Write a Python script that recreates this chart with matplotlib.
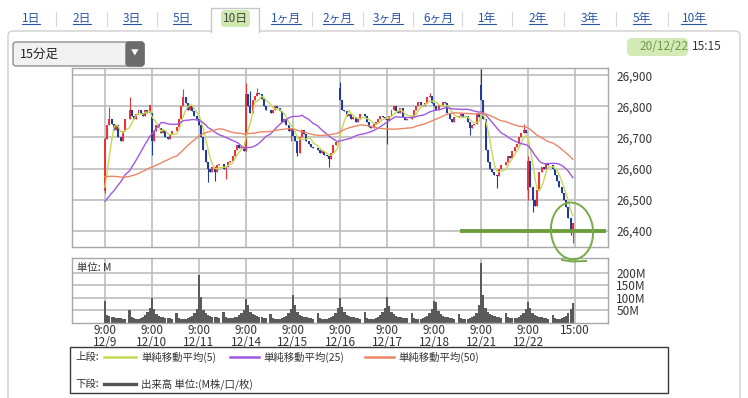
import numpy as np
import matplotlib
matplotlib.use("Agg")
import matplotlib.pyplot as plt
from matplotlib.patches import FancyBboxPatch, Rectangle, Ellipse
from matplotlib.transforms import blended_transform_factory

plt.rcParams['font.family'] = ['Noto Sans CJK JP', 'DejaVu Sans']

# ---------------- data ----------------
tabs = ["1日", "2日", "3日", "5日", "10日", "1ヶ月", "2ヶ月", "3ヶ月", "6ヶ月",
        "1年", "2年", "3年", "5年", "10年"]
selected_tab = "10日"
interval_label = "15分足"
stamp_date = "20/12/22"
stamp_time = "15:15"

day_labels = ["12/9", "12/10", "12/11", "12/14", "12/15", "12/16", "12/17",
              "12/18", "12/21", "12/22"]
x_tick_times = ["9:00"] * 10 + ["15:00"]
price_ticks = [26400, 26500, 26600, 26700, 26800, 26900]
volume_ticks = [50, 100, 150, 200]

# closes of earlier sessions (only used to start the moving averages)
prev_closes_1204 = [26720, 26730, 26745, 26740, 26750, 26745, 26735, 26740, 26750]
prev_closes_1207 = [26680, 26670, 26660, 26650, 26640, 26620, 26610, 26600, 26600, 26590,
                    26580, 26570, 26560, 26560, 26550, 26540, 26540, 26530, 26520, 26547]
prev_closes_1208 = [26480, 26470, 26460, 26450, 26455, 26465, 26470, 26480, 26475, 26470,
                    26465, 26460, 26470, 26480, 26490, 26485, 26500, 26495, 26505, 26505]

# 15-minute closes, 20 bars per session
close_1209 = [26695, 26740, 26760, 26745, 26725, 26740, 26700, 26690, 26720, 26760,
              26790, 26770, 26760, 26775, 26790, 26780, 26770, 26790, 26780, 26805]
close_1210 = [26690, 26720, 26740, 26730, 26715, 26725, 26700, 26695, 26710, 26720,
              26735, 26760, 26800, 26830, 26810, 26790, 26800, 26785, 26770, 26760]
close_1211 = [26740, 26700, 26660, 26620, 26600, 26590, 26605, 26590, 26610, 26615,
              26600, 26605, 26620, 26625, 26640, 26660, 26675, 26665, 26670, 26655]
close_1214 = [26840, 26800, 26780, 26820, 26835, 26845, 26840, 26825, 26800, 26790,
              26780, 26790, 26800, 26795, 26785, 26750, 26760, 26740, 26720, 26730]
close_1215 = [26705, 26690, 26650, 26700, 26725, 26710, 26690, 26680, 26670, 26665,
              26660, 26650, 26655, 26645, 26640, 26630, 26650, 26675, 26685, 26690]
close_1216 = [26820, 26790, 26785, 26770, 26775, 26760, 26765, 26750, 26760, 26775,
              26770, 26750, 26735, 26730, 26745, 26750, 26760, 26770, 26765, 26760]
close_1217 = [26755, 26770, 26790, 26800, 26785, 26780, 26795, 26765, 26755, 26760,
              26770, 26790, 26800, 26815, 26805, 26800, 26810, 26830, 26835, 26810]
close_1218 = [26800, 26790, 26805, 26800, 26815, 26810, 26780, 26760, 26750, 26765,
              26770, 26775, 26765, 26770, 26750, 26730, 26740, 26745, 26775, 26765]
close_1221 = [26820, 26760, 26660, 26620, 26600, 26590, 26580, 26575, 26600, 26610,
              26620, 26640, 26635, 26655, 26670, 26680, 26700, 26715, 26725, 26715]
close_1222 = [26625, 26540, 26500, 26480, 26530, 26590, 26605, 26600, 26615, 26610,
              26600, 26580, 26560, 26540, 26520, 26500, 26475, 26440, 26400, 26425]
session_closes = [close_1209, close_1210, close_1211, close_1214, close_1215,
                  close_1216, close_1217, close_1218, close_1221, close_1222]
session_opens = [26527, 26780, 26760, 26655, 26730, 26860, 26760, 26810, 26870, 26530]

# (session, bar, high, low) for the longer wicks
wick_extremes = [(0, 0, 26700, 26520), (0, 2, 26797, None), (0, 10, 26830, None),
                 (1, 0, None, 26645), (1, 13, 26855, None), (2, 4, None, 26555),
                 (2, 7, None, 26560), (2, 11, None, 26565), (3, 0, 26875, None),
                 (3, 2, 26850, None), (3, 5, 26860, None), (3, 19, None, 26690),
                 (4, 2, None, 26640), (4, 15, None, 26605), (5, 0, 26878, None),
                 (6, 0, None, 26680), (6, 18, 26842, None), (7, 15, None, 26708),
                 (8, 0, 26922, None), (8, 7, None, 26538), (8, 18, 26745, None),
                 (9, 0, 26640, 26500), (9, 2, None, 26460), (9, 18, None, 26385),
                 (9, 19, None, 26360)]

# volume (millions), 20 bars per session
vol_1209 = [89, 30, 26, 24, 22, 20, 19, 18, 17, 16, 50, 22, 18, 16, 16, 18, 22, 30, 42, 60]
vol_1210 = [100, 55, 35, 28, 24, 22, 20, 19, 18, 17, 38, 18, 16, 15, 16, 18, 22, 28, 40, 55]
vol_1211 = [190, 105, 50, 38, 30, 28, 25, 24, 22, 20, 42, 22, 20, 19, 20, 22, 25, 30, 38, 52]
vol_1214 = [95, 70, 45, 35, 30, 26, 24, 22, 20, 18, 36, 20, 17, 16, 17, 18, 22, 28, 40, 55]
vol_1215 = [112, 70, 45, 33, 28, 25, 22, 20, 18, 17, 38, 18, 16, 16, 17, 18, 22, 28, 40, 58]
vol_1216 = [98, 65, 42, 32, 27, 24, 22, 20, 18, 17, 42, 20, 17, 16, 17, 19, 23, 30, 45, 60]
vol_1217 = [105, 68, 45, 34, 28, 25, 23, 21, 19, 18, 38, 19, 17, 16, 17, 18, 22, 28, 38, 55]
vol_1218 = [88, 85, 48, 35, 28, 25, 22, 20, 18, 17, 36, 18, 16, 15, 16, 18, 22, 28, 40, 72]
vol_1221 = [240, 112, 60, 42, 35, 30, 27, 25, 22, 20, 40, 22, 19, 18, 19, 21, 25, 30, 40, 55]
vol_1222 = [82, 60, 40, 32, 27, 24, 22, 20, 18, 17, 33, 18, 17, 17, 18, 22, 28, 38, 55, 78]
session_volumes = [vol_1209, vol_1210, vol_1211, vol_1214, vol_1215,
                   vol_1216, vol_1217, vol_1218, vol_1221, vol_1222]

ma_periods = [5, 25, 50]
ma_names = ["単純移動平均(5)", "単純移動平均(25)", "単純移動平均(50)"]
volume_name = "出来高 単位:(M株/口/枚)"

# ---------------- build series ----------------
UP = "#e5343a"
DOWN = "#1f3c9c"
MA_COLORS = ["#c5d955", "#a257e0", "#ea8666"]
GRID = "#bdbdbd"
SPINE = "#a8a8a8"
TXT = "#333333"

xs, o_, h_, l_, c_, v_ = [], [], [], [], [], []
for d, (cl, vol) in enumerate(zip(session_closes, session_volumes)):
    for i, c in enumerate(cl):
        slot = i if i < 10 else i + 1          # lunch break slot left empty
        xs.append(d + slot / 21.0)
        o = session_opens[d] if i == 0 else cl[i - 1]
        o_.append(o)
        c_.append(c)
        h_.append(max(o, c))
        l_.append(min(o, c))
        v_.append(vol[i])
xs = np.array(xs)
o_ = np.array(o_, float); c_ = np.array(c_, float)
h_ = np.array(h_, float); l_ = np.array(l_, float); v_ = np.array(v_, float)
for d, b, hi, lo in wick_extremes:
    k = d * 20 + b
    if hi is not None:
        h_[k] = max(h_[k], hi)
    if lo is not None:
        l_[k] = min(l_[k], lo)

all_closes = np.array(prev_closes_1204 + prev_closes_1207 + prev_closes_1208 + list(c_), float)
n = len(c_)
mas = []
for p in ma_periods:
    m = np.convolve(all_closes, np.ones(p) / p, mode="valid")
    mas.append(m[-n:])

# ---------------- figure ----------------
W, H = 748, 398
fig = plt.figure(figsize=(W / 100, H / 100), dpi=100)
fig.patch.set_facecolor("white")

def fax(x0, y0, x1, y1):
    return [x0 / W, 1 - y1 / H, (x1 - x0) / W, (y1 - y0) / H]

# UI layer in pixel coordinates
ui = fig.add_axes([0, 0, 1, 1], zorder=0)
ui.set_xlim(0, W); ui.set_ylim(H, 0); ui.axis("off")

# panel border
ui.add_patch(FancyBboxPatch((8, 31), 732, 400, boxstyle="round,pad=0,rounding_size=5",
                            fc="white", ec="#cfcfcf", lw=1.0))
# selected tab box
ui.add_patch(Rectangle((211, 8), 48, 24, fc="white", ec="none", zorder=2))
ui.plot([211, 211, 259, 259], [31.5, 8, 8, 31.5], color="#c8c8c8", lw=1.0, zorder=3)

tab_centers = [31, 82, 132, 182, 235, 286, 338, 388, 438, 487, 538, 590, 642, 694]
tab_texts = []
for k, (t, cx) in enumerate(zip(tabs, tab_centers)):
    if t == selected_tab:
        ui.add_patch(FancyBboxPatch((221, 10), 29, 17, boxstyle="round,pad=0,rounding_size=4",
                                    fc="#cfe8ad", ec="none", zorder=3))
        ui.text(cx, 18.5, t, ha="center", va="center", fontsize=8.5, color="#444444", zorder=4)
    else:
        tt = ui.text(cx, 18.5, t, ha="center", va="center", fontsize=8.5, color="#2a55a8", zorder=4)
        tab_texts.append(tt)
    if 0 < k and tabs[k - 1] != selected_tab and t != selected_tab:
        sx = (tab_centers[k - 1] + cx) / 2
        ui.plot([sx, sx], [12, 26], color="#d6d6d6", lw=0.8, zorder=3)

# dropdown
ui.add_patch(FancyBboxPatch((13, 42), 131, 24, boxstyle="round,pad=0,rounding_size=3",
                            fc="#f1f1f1", ec="#8f8f8f", lw=1.0, zorder=2))
ui.add_patch(FancyBboxPatch((126, 42), 18, 24, boxstyle="round,pad=0,rounding_size=3",
                            fc="#6b6b6b", ec="#6b6b6b", lw=1.0, zorder=3))
ui.text(135, 54, "▼", ha="center", va="center", fontsize=5.5, color="white", zorder=4)
ui.text(20, 54.5, interval_label, ha="left", va="center", fontsize=9, color="#222222", zorder=4)

# timestamp
ui.add_patch(FancyBboxPatch((627, 38), 61, 18, boxstyle="round,pad=0,rounding_size=5",
                            fc="#d3eab6", ec="none", zorder=2))
ui.text(688, 47, stamp_date, ha="right", va="center", fontsize=8.5, color="#6f9a45", zorder=4)
ui.text(692, 47, stamp_time, ha="left", va="center", fontsize=8.5, color="#333333", zorder=4)

# legend box
ui.add_patch(Rectangle((70, 347), 598, 46, fc="white", ec="#3a3a3a", lw=1.0, zorder=2))
ly1, ly2 = 357, 384
ui.text(75, ly1, "上段:", ha="left", va="center", fontsize=7.5, color=TXT, zorder=4)
leg_x = [(104, 136, 141), (230, 259, 263), (365, 394, 398)]
for (a, b, tx), col, name in zip(leg_x, MA_COLORS, ma_names):
    ui.plot([a, b], [ly1, ly1], color=col, lw=1.8, zorder=4)
    ui.text(tx, ly1, name, ha="left", va="center", fontsize=7.5, color=TXT, zorder=4)
ui.text(75, ly2, "下段:", ha="left", va="center", fontsize=7.5, color=TXT, zorder=4)
ui.plot([104, 136], [ly2, ly2], color="#555555", lw=2.4, zorder=4)
ui.text(141, ly2, volume_name, ha="left", va="center", fontsize=7.5, color=TXT, zorder=4)

# ---------------- price panel ----------------
X0, X1 = -0.70, 10.70
axp = fig.add_axes(fax(72, 68, 608, 247), zorder=3)
axp.set_facecolor("white")
axp.set_xlim(X0, X1)
axp.set_ylim(26347, 26924)
for d in range(11):
    axp.axvline(d, color=GRID, lw=1.2, zorder=0)
for p in price_ticks:
    axp.axhline(p, color=GRID, lw=1.2, zorder=0)
up = c_ >= o_
cols = np.where(up, UP, DOWN)
axp.vlines(xs, l_, h_, colors=cols, lw=0.8, zorder=2)
body_b = np.minimum(o_, c_)
body_h = np.maximum(np.abs(c_ - o_), 2.0)
axp.bar(xs, body_h, bottom=body_b, width=0.042, color=cols, lw=0, zorder=2)
for m, col in zip(mas, MA_COLORS):
    axp.plot(xs, m, color=col, lw=1.0, zorder=3)
axp.set_yticks(price_ticks)
axp.set_yticklabels([f"{p:,}" for p in price_ticks])
axp.yaxis.tick_right()
axp.set_xticks([])
axp.tick_params(axis="y", length=0, pad=6, labelsize=8.5, labelcolor=TXT)
for s in axp.spines.values():
    s.set_color(SPINE); s.set_linewidth(1.0)

# green hand annotations
GREEN = "#6c9f3b"
axp.plot([(460 - 105) / 47, (606 - 105) / 47], [26398, 26398], color=GREEN, lw=2.8,
         solid_capstyle="butt", clip_on=False, zorder=5)
ui2 = fig.add_axes([0, 0, 1, 1], zorder=10)
ui2.set_xlim(0, W); ui2.set_ylim(H, 0); ui2.axis("off")
ui2.patch.set_alpha(0)
ui2.add_patch(Ellipse((572, 231), 42, 57, angle=-5, fc="none", ec="#78aa48", lw=1.4))
ui2.plot([562, 572, 586], [260, 261.5, 261], color="#78aa48", lw=1.4)

# ---------------- volume panel ----------------
axv = fig.add_axes(fax(72, 258, 608, 323), zorder=2)
axv.set_facecolor("white")
axv.set_xlim(X0, X1)
axv.set_ylim(0, 258)
for d in range(11):
    axv.axvline(d, color=GRID, lw=1.2, zorder=0)
for vt in volume_ticks:
    axv.axhline(vt, color=GRID, lw=1.2, zorder=0)
axv.bar(xs, v_, width=1 / 21.0 * 0.98, color="#5a5a5a", lw=0, zorder=2)
axv.set_yticks(volume_ticks)
axv.set_yticklabels([f"{vt}M" for vt in volume_ticks])
axv.yaxis.tick_right()
axv.set_xticks(range(11))
axv.set_xticklabels([])
axv.tick_params(axis="x", length=0)
axv.tick_params(axis="y", length=0, pad=6, labelsize=8.5, labelcolor=TXT)
for s in axv.spines.values():
    s.set_color(SPINE); s.set_linewidth(1.0)
axv.text(0.01, 0.93, "単位: M", transform=axv.transAxes, ha="left", va="top",
         fontsize=7.5, color=TXT)

# two-row time axis labels under the volume panel
tr = blended_transform_factory(axv.transData, ui.transData)
for d, t in enumerate(x_tick_times):
    axv.text(d, 330.5, t, transform=tr, ha="center", va="center", fontsize=8.5,
             color=TXT, clip_on=False)
for d, dl in enumerate(day_labels):
    axv.text(d, 342, dl, transform=tr, ha="center", va="center", fontsize=8.5,
             color=TXT, clip_on=False)

# underline tab links
fig.canvas.draw()
for tt in tab_texts:
    bb = tt.get_window_extent()
    yb = H - bb.y0
    ui.plot([bb.x0, bb.x1], [yb - 1.5, yb - 1.5], color="#2a55a8", lw=0.8, zorder=4)

fig.savefig("out.png", dpi=100)
